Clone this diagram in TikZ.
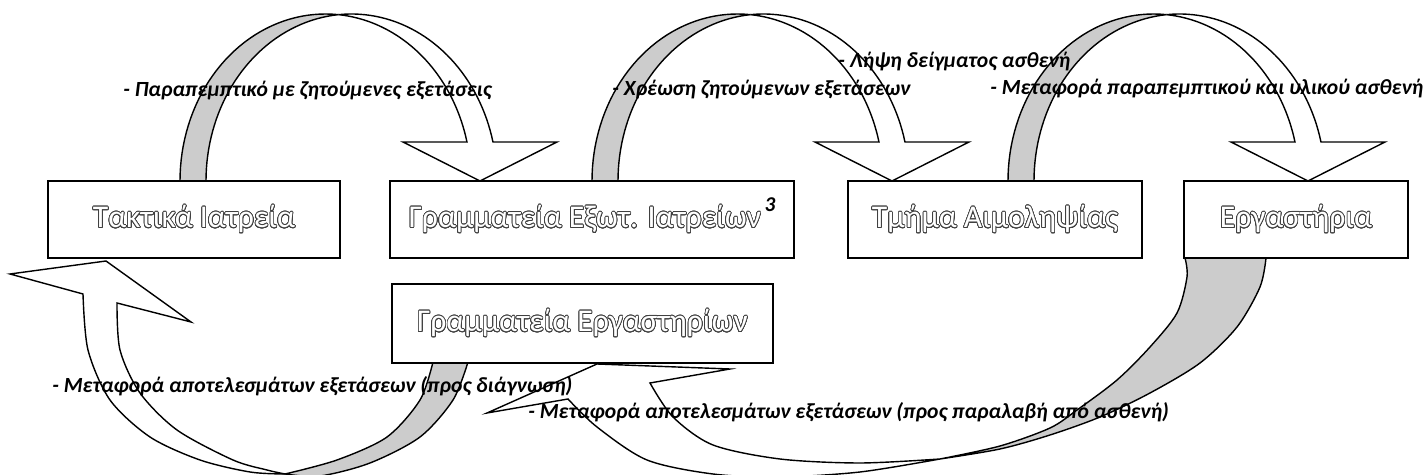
\documentclass[tikz,border=0pt]{standalone}
\usepackage{fontspec}
\setmainfont{Carlito}
\usepackage[copies]{contour}
\contourlength{0.42pt}
\contournumber{24}
\newcommand\hollow[1]{{\color{white}\contour{black!75}{#1}}}
\begin{document}
\begin{tikzpicture}[x=0.02cm,y=-0.02cm,line join=miter]
\tikzset{
  box/.style={draw=black,line width=1.1pt,fill=white,inner sep=0pt,minimum height=1.54cm,
    font=\fontsize{18pt}{20pt}\selectfont},
  lab/.style={anchor=base west,inner sep=0pt,font=\fontsize{12.3pt}{14pt}\selectfont\bfseries\itshape},
  band/.style={draw=black,line width=0.8pt},
}
\useasboundingbox (0,0) rectangle (1424,475);

% upper curved arrows: two equal half-ellipses shifted by the band width
\foreach \cx in {325.5,737.5,1153.5}{
  \filldraw[band,fill=gray!40]
    plot[domain=180:84.9,samples=40] ({\cx+145.5*cos(\x)},{181-167*sin(\x)})
    -- plot[domain=95.1:180,samples=40] ({\cx+26+145.5*cos(\x)},{181-167*sin(\x)}) -- cycle;
  \filldraw[band,fill=white]
    plot[domain=95.1:13.5,samples=40] ({\cx+26+145.5*cos(\x)},{181-167*sin(\x)})
    -- ({\cx+231.5},142) -- ({\cx+154.5},181) -- ({\cx+77.5},142)
    -- plot[domain=13.5:84.9,samples=40] ({\cx+145.5*cos(\x)},{181-167*sin(\x)}) -- cycle;
}

% lower left arrow: results back to the clinics
\filldraw[band,fill=gray!40]
  plot[smooth] coordinates {(285,474) (320,476) (370,463) (420,437) (453,400) (468,362)}
  -- plot[smooth] coordinates {(433,362) (420,400) (387,437) (337,460) (285,474)} -- cycle;
\filldraw[band,fill=white]
  plot[smooth] coordinates {(83,294) (88,350) (110,400) (150,437) (200,460) (250,472) (285,474)}
  -- plot[smooth] coordinates {(285,474) (267,470) (233,460) (177,430) (140,393) (120,350) (117,303)}
  -- (191,322) -- (106,261) -- (10,274) -- cycle;

% lower right arrow: results from the laboratories
\filldraw[band,fill=gray!40]
  plot[smooth] coordinates {(940,459) (1000,449) (1050,435) (1100,417) (1150,393) (1200,363) (1237,327) (1260,287) (1266,258)}
  -- plot[smooth] coordinates {(1185,258) (1187,277) (1177,313) (1150,347) (1117,380) (1077,410) (1050,428) (1000,446) (940,459)} -- cycle;
\filldraw[band,fill=white]
  plot[smooth] coordinates {(568,399) (597,427) (647,460) (713,474) (780,477) (860,472) (940,459)}
  -- plot[smooth] coordinates {(940,459) (860,463) (780,459) (713,445) (673,417) (650,383)}
  -- (730,369) -- (597,364) -- (487,413) -- cycle;

% boxes
\node[box,minimum width=5.84cm] (b1) at (194,219.5) {\hollow{Τακτικά Ιατρεία}};
\node[box,minimum width=8.08cm] (b2) at (592,219.5) {\hollow{Γραμματεία Εξωτ. Ιατρείων}\kern2pt\smash{\raisebox{0.5em}{\fontsize{12pt}{14pt}\selectfont\bfseries\itshape 3}}};
\node[box,minimum width=5.88cm] (b3) at (995,219.5) {\hollow{Τμήμα Αιμοληψίας}};
\node[box,minimum width=4.48cm] (b4) at (1296,219.5) {\hollow{Εργαστήρια}};
\node[box,minimum width=7.62cm,minimum height=1.58cm] (b5) at (582.5,323.5) {\hollow{Γραμματεία Εργαστηρίων}};

% labels
\node[lab] (l1) at (123,97) {- Παραπεμπτικό με ζητούμενες εξετάσεις};
\node[lab] (l2) at (612,96) {- Χρέωση ζητούμενων εξετάσεων};
\node[lab] (l3) at (838,68) {- Λήψη δείγματος ασθενή};
\node[lab] (l4) at (990,95) {- Μεταφορά παραπεμπτικού και υλικού ασθενή};
\node[lab] (l5) at (52,393) {- Μεταφορά αποτελεσμάτων εξετάσεων (προς διάγνωση)};
\node[lab] (l6) at (528,419) {- Μεταφορά αποτελεσμάτων εξετάσεων (προς παραλαβή από ασθενή)};
\end{tikzpicture}
\end{document}
